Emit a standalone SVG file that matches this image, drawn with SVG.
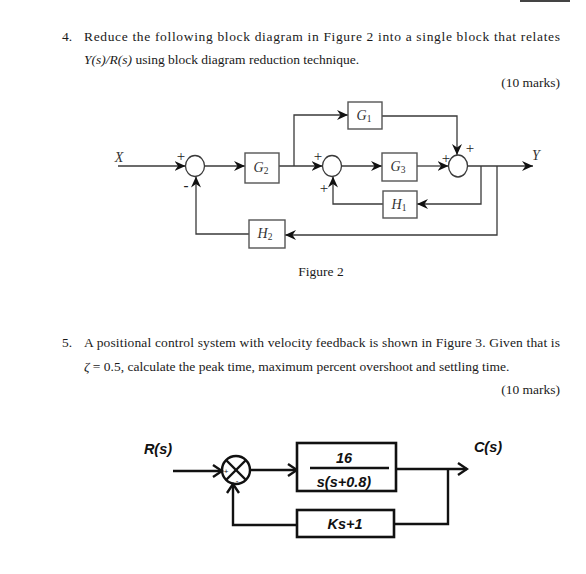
<svg xmlns="http://www.w3.org/2000/svg" width="586" height="574" viewBox="0 0 586 574">
<style>
.t{font-family:"Liberation Serif","Times New Roman",serif;font-size:13.5px;fill:#1a1a1a}
.i{font-style:italic}
.lbl{font-family:"Liberation Serif","Times New Roman",serif;font-size:14px;font-style:italic;fill:#333;text-anchor:middle}
.sub{font-size:9.5px;font-style:normal}
.sg{font-family:"Liberation Serif",serif;font-size:15px;fill:#222;text-anchor:middle}
.w2{fill:none;stroke:#3a3a3a;stroke-width:1.3}
.box2{fill:#fff;stroke:#555;stroke-width:1.4}
.w3{fill:none;stroke:#111;stroke-width:2.4}
.box3{fill:#fff;stroke:#111;stroke-width:2.6}
.f3{font-family:"Liberation Sans",Arial,sans-serif;font-weight:bold;font-style:italic;font-size:14.5px;fill:#111;text-anchor:middle}
</style>
<defs>
<marker id="a2" markerUnits="userSpaceOnUse" markerWidth="12" markerHeight="10" refX="11" refY="5" orient="auto">
<path d="M0,0 L11,5 L0,10 L3.5,5 Z" fill="#111"/>
</marker>
<marker id="a3" markerUnits="userSpaceOnUse" markerWidth="12" markerHeight="14" refX="10" refY="7" orient="auto">
<path d="M1,1 L10,7 L1,13" fill="none" stroke="#111" stroke-width="2.4"/>
</marker>
</defs>
<rect width="586" height="574" fill="#fff"/>
<rect x="520" y="0" width="50" height="2" fill="#444"/>

<!-- Question 4 text -->
<text class="t" x="62" y="41">4.</text>
<text class="t" x="84" y="41" textLength="476" lengthAdjust="spacing">Reduce the following block diagram in Figure 2 into a single block that relates</text>
<text class="t" x="84" y="64"><tspan class="i">Y(s)/R(s)</tspan> using block diagram reduction technique.</text>
<text class="t" x="560" y="87" text-anchor="end">(10 marks)</text>

<!-- Figure 2 connectors -->
<g id="connectors-fig2">
<line class="w2" x1="118" y1="166" x2="185.5" y2="166" marker-end="url(#a2)"/>
<line class="w2" x1="204.5" y1="166" x2="245" y2="166" marker-end="url(#a2)"/>
<line class="w2" x1="279" y1="166" x2="322.5" y2="166" marker-end="url(#a2)"/>
<polyline class="w2" points="294,166 294,115 348,115" marker-end="url(#a2)"/>
<polyline class="w2" points="382,116 457,116 457,155" marker-end="url(#a2)"/>
<line class="w2" x1="341.5" y1="166" x2="382" y2="166" marker-end="url(#a2)"/>
<line class="w2" x1="417" y1="166" x2="448.5" y2="166" marker-end="url(#a2)"/>
<line class="w2" x1="467.5" y1="166" x2="533" y2="166" marker-end="url(#a2)"/>
<polyline class="w2" points="481,166 481,204 417,204" marker-end="url(#a2)"/>
<polyline class="w2" points="383,204 333,204 333,176.5" marker-end="url(#a2)"/>
<polyline class="w2" points="497,166 497,235 285,235" marker-end="url(#a2)"/>
<polyline class="w2" points="249,234 196,234 196,176.5" marker-end="url(#a2)"/>
</g>

<g id="sum1">
<ellipse cx="195" cy="166" rx="9.5" ry="10.5" class="w2" fill="#fff"/>
<text class="sg" x="181" y="161">+</text>
<text class="sg" x="186" y="190" font-weight="bold" font-size="17">-</text>
</g>
<g id="G2">
<rect class="box2" x="245" y="153" width="34" height="30"/>
<text class="lbl" x="261" y="172">G<tspan class="sub" dy="2">2</tspan></text>
</g>
<g id="sum2">
<ellipse cx="332" cy="166" rx="9.5" ry="10.5" class="w2" fill="#fff"/>
<text class="sg" x="318" y="161">+</text>
<text class="sg" x="324" y="193">+</text>
</g>
<g id="G1">
<rect class="box2" x="348" y="102" width="34" height="27"/>
<text class="lbl" x="364" y="120">G<tspan class="sub" dy="2">1</tspan></text>
</g>
<g id="G3">
<rect class="box2" x="382" y="153" width="35" height="28"/>
<text class="lbl" x="398" y="171">G<tspan class="sub" dy="2">3</tspan></text>
</g>
<g id="sum3">
<ellipse cx="458" cy="166" rx="9.5" ry="11" class="w2" fill="#fff"/>
<text class="sg" x="446" y="163">+</text>
<text class="sg" x="470" y="153">+</text>
</g>
<g id="H1">
<rect class="box2" x="383" y="191" width="34" height="27"/>
<text class="lbl" x="399" y="209">H<tspan class="sub" dy="2">1</tspan></text>
</g>
<g id="H2">
<rect class="box2" x="249" y="220" width="36" height="28"/>
<text class="lbl" x="265" y="238">H<tspan class="sub" dy="2">2</tspan></text>
</g>
<text class="lbl" x="119" y="162">X</text>
<text class="lbl" x="536" y="160">Y</text>
<text class="t" x="321" y="276" text-anchor="middle">Figure 2</text>

<!-- Question 5 text -->
<text class="t" x="62" y="347">5.</text>
<text class="t" x="84" y="347" textLength="476" lengthAdjust="spacing">A positional control system with velocity feedback is shown in Figure 3. Given that is</text>
<text class="t" x="84" y="371"><tspan class="i">ζ</tspan> = 0.5, calculate the peak time, maximum percent overshoot and settling time.</text>
<text class="t" x="560" y="394" text-anchor="end">(10 marks)</text>

<!-- Figure 3 -->
<g id="connectors-fig3">
<line class="w3" x1="173" y1="471" x2="222" y2="471" marker-end="url(#a3)"/>
<line class="w3" x1="250" y1="470" x2="297" y2="470" marker-end="url(#a3)"/>
<line class="w3" x1="396" y1="469" x2="467" y2="469" marker-end="url(#a3)"/>
<polyline class="w3" points="448,469 448,524 394,524"/>
<polyline class="w3" points="297,525 233,525 233,484" marker-end="url(#a3)"/>
</g>
<g id="sum-fig3">
<circle cx="236" cy="470" r="14" class="w3" fill="#fff"/>
<line class="w3" x1="226" y1="480" x2="246" y2="460"/>
<line class="w3" x1="226" y1="460" x2="246" y2="480"/>
<text x="226" y="474" font-family="Liberation Sans,sans-serif" font-size="8" fill="#111" text-anchor="middle">+</text>
<text x="237" y="483" font-family="Liberation Sans,sans-serif" font-size="8" fill="#111" text-anchor="middle">-</text>
</g>
<g id="plant">
<rect class="box3" x="297" y="443" width="99" height="48"/>
<line class="w3" x1="310" y1="468" x2="389" y2="468"/>
<text class="f3" x="344" y="463">16</text>
<text class="f3" x="344" y="487">s(s+0.8)</text>
</g>
<g id="feedback">
<rect class="box3" x="297" y="510" width="97" height="27"/>
<text class="f3" x="345" y="529">Ks+1</text>
</g>
<text class="f3" x="158" y="454">R(s)</text>
<text class="f3" x="488" y="452">C(s)</text>
</svg>
